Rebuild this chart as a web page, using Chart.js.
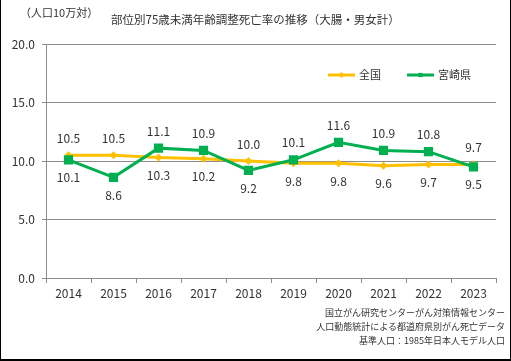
<!DOCTYPE html>
<html lang="ja">
  <head>
    <meta charset="UTF-8" />
    <title>部位別75歳未満年齢調整死亡率の推移</title>
    <script src="https://cdn.jsdelivr.net/npm/chart.js"></script>
    <style>
      body {
        margin: 0;
        background: #fff;
        font-family: "Noto Sans CJK JP", sans-serif;
        color: #333;
      }
      .frame {
        position: relative;
        width: 511px;
        height: 361px;
      }
      .frame canvas {
        position: absolute;
        left: 0;
        top: 0;
      }
      .border {
        position: absolute;
        left: 0;
        top: 0;
        width: 511px;
        height: 361px;
        box-sizing: border-box;
        border: 1px solid #000;
        border-top: none;
        border-bottom-width: 2px;
        pointer-events: none;
      }
      .unit {
        position: absolute;
        left: 20px;
        top: 4px;
        font-size: 11px;
      }
      .title {
        position: absolute;
        left: 0;
        width: 511px;
        top: 11px;
        text-align: center;
        font-size: 11.5px;
      }
      .notes {
        position: absolute;
        right: 6px;
        top: 306px;
        text-align: right;
        font-size: 9px;
        line-height: 14px;
      }
    </style>
  </head>
  <body>
    <div class="frame">
      <canvas id="chart" width="511" height="361"></canvas>
      <div class="unit">（人口10万対）</div>
      <div class="title">部位別75歳未満年齢調整死亡率の推移（大腸・男女計）</div>
      <div class="notes">
        国立がん研究センターがん対策情報センター<br />
        人口動態統計による都道府県別がん死亡データ<br />
        基準人口：1985年日本人モデル人口
      </div>
      <div class="border"></div>
    </div>
    <script>
      const years = ["2014", "2015", "2016", "2017", "2018", "2019", "2020", "2021", "2022", "2023"];
      const national = [10.5, 10.5, 10.3, 10.2, 10.0, 9.8, 9.8, 9.6, 9.7, 9.7];
      const miyazaki = [10.1, 8.6, 11.1, 10.9, 9.2, 10.1, 11.6, 10.9, 10.8, 9.5];
      const yTicks = [0, 5, 10, 15, 20];

      const ORANGE = "#FFC000";
      const GREEN = "#00B050";
      const TEXT = "#333";

      Chart.defaults.font.family = "'Noto Sans CJK JP', sans-serif";
      Chart.defaults.font.size = 12;
      Chart.defaults.color = TEXT;

      // value labels: the higher of the two goes above, the lower below
      const valueLabels = {
        id: "valueLabels",
        afterDatasetsDraw(chart) {
          const ctx = chart.ctx;
          const metas = [chart.getDatasetMeta(0), chart.getDatasetMeta(1)];
          ctx.save();
          ctx.font = "12px 'Noto Sans CJK JP', sans-serif";
          ctx.fillStyle = TEXT;
          ctx.textAlign = "center";
          ctx.textBaseline = "middle";
          years.forEach((y, i) => {
            const a = national[i];
            const b = miyazaki[i];
            [a, b].forEach((v, d) => {
              const other = d === 0 ? b : a;
              const pt = metas[d].data[i];
              const dy = v >= other ? -17 : 18;
              ctx.fillText(v.toFixed(1), pt.x, pt.y + dy);
            });
          });
          ctx.restore();
        },
      };

      // legend inside the plot area, top right
      const innerLegend = {
        id: "innerLegend",
        afterDraw(chart) {
          const ctx = chart.ctx;
          const items = [
            { label: "全国", color: ORANGE, x: 328, style: "rectRot" },
            { label: "宮崎県", color: GREEN, x: 407, style: "rect" },
          ];
          const y = 75;
          ctx.save();
          ctx.font = "11px 'Noto Sans CJK JP', sans-serif";
          ctx.textBaseline = "middle";
          items.forEach((it) => {
            ctx.strokeStyle = it.color;
            ctx.fillStyle = it.color;
            ctx.lineWidth = 3;
            ctx.beginPath();
            ctx.moveTo(it.x, y);
            ctx.lineTo(it.x + 27, y);
            ctx.stroke();
            Chart.helpers.drawPoint(ctx, { pointStyle: it.style, radius: 3, borderWidth: 0 }, it.x + 13.5, y);
            ctx.fillStyle = TEXT;
            ctx.fillText(it.label, it.x + 31, y);
          });
          ctx.restore();
        },
      };

      new Chart(document.getElementById("chart"), {
        type: "line",
        data: {
          labels: years,
          datasets: [
            {
              label: "全国",
              data: national,
              borderColor: ORANGE,
              backgroundColor: ORANGE,
              borderWidth: 3,
              pointStyle: "rectRot",
              pointRadius: 4,
              pointBorderWidth: 0,
              order: 2,
            },
            {
              label: "宮崎県",
              data: miyazaki,
              borderColor: GREEN,
              backgroundColor: GREEN,
              borderWidth: 3,
              pointStyle: "rect",
              pointRadius: 6.5,
              pointBorderWidth: 0,
              order: 1,
            },
          ],
        },
        options: {
          responsive: false,
          animation: false,
          devicePixelRatio: 1,
          layout: {
            padding: { left: 0, right: 15, top: 44, bottom: 0 },
          },
          scales: {
            y: {
              min: 0,
              max: 20,
              afterBuildTicks(s) {
                s.ticks = yTicks.map((v) => ({ value: v }));
              },
              afterFit(s) {
                s.width = 46;
              },
              ticks: {
                padding: 7,
                callback: (v) => Number(v).toFixed(1),
              },
              grid: {
                color: "#8c8c8c",
                tickLength: 4,
              },
              border: { color: "#8c8c8c" },
            },
            x: {
              offset: true,
              afterFit(s) {
                s.height = 83;
              },
              ticks: { padding: 3, maxRotation: 0 },
              grid: {
                offset: true,
                drawOnChartArea: false,
                color: "#8c8c8c",
                tickLength: 5,
              },
              border: { color: "#8c8c8c" },
            },
          },
          plugins: {
            legend: { display: false },
            tooltip: { enabled: false },
          },
        },
        plugins: [valueLabels, innerLegend],
      });
    </script>
  </body>
</html>
